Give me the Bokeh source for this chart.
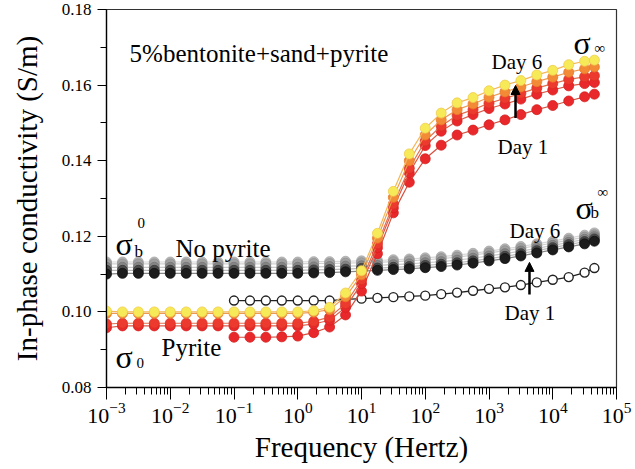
from bokeh.plotting import figure
from bokeh.models import FixedTicker, Label, Arrow, NormalHead, PrintfTickFormatter
from bokeh.embed import file_html
from bokeh.resources import INLINE

# ---------------- data ----------------
freq = [0.001, 0.00178, 0.00316, 0.00562, 0.01, 0.0178, 0.0316, 0.0562,
        0.1, 0.178, 0.316, 0.562, 1.0, 1.78, 3.16, 5.62,
        10.0, 17.8, 31.6, 56.2, 100.0, 178.0, 316.0, 562.0,
        1000.0, 1780.0, 3160.0, 5620.0, 10000.0, 17800.0, 31600.0, 45000.0]
freq_day1 = freq[8:]

# No pyrite (sigma_b)
np_day1 = [0.1030, 0.1030, 0.1030, 0.1030, 0.1030, 0.1030, 0.1030, 0.1033,
           0.1035, 0.1037, 0.1039, 0.1041, 0.1043, 0.1047, 0.1051, 0.1056,
           0.1061, 0.1065, 0.1071, 0.1078, 0.1085, 0.1092, 0.1104, 0.1116]
np_day2 = [0.1100, 0.1102, 0.1102, 0.1102, 0.1102, 0.1102, 0.1102, 0.1102,
           0.1102, 0.1102, 0.1102, 0.1102, 0.1102, 0.1103, 0.1104, 0.1106,
           0.1108, 0.1110, 0.1112, 0.1114, 0.1117, 0.1120, 0.1124, 0.1129,
           0.1135, 0.1141, 0.1148, 0.1156, 0.1164, 0.1172, 0.1180, 0.1187]
np_day3 = [0.1110, 0.1110, 0.1110, 0.1110, 0.1110, 0.1110, 0.1110, 0.1110,
           0.1110, 0.1110, 0.1110, 0.1110, 0.1110, 0.1111, 0.1112, 0.1113,
           0.1115, 0.1116, 0.1118, 0.1120, 0.1123, 0.1126, 0.1130, 0.1135,
           0.1141, 0.1147, 0.1154, 0.1162, 0.1170, 0.1178, 0.1186, 0.1193]
np_day4 = [0.1118, 0.1118, 0.1118, 0.1118, 0.1118, 0.1118, 0.1118, 0.1118,
           0.1118, 0.1118, 0.1118, 0.1118, 0.1118, 0.1119, 0.1120, 0.1121,
           0.1122, 0.1123, 0.1125, 0.1127, 0.1130, 0.1133, 0.1137, 0.1142,
           0.1148, 0.1154, 0.1161, 0.1168, 0.1176, 0.1184, 0.1192, 0.1199]
np_day5 = [0.1127, 0.1127, 0.1127, 0.1127, 0.1127, 0.1127, 0.1127, 0.1127,
           0.1127, 0.1127, 0.1127, 0.1127, 0.1127, 0.1128, 0.1128, 0.1129,
           0.1130, 0.1131, 0.1133, 0.1135, 0.1138, 0.1141, 0.1145, 0.1150,
           0.1156, 0.1162, 0.1168, 0.1175, 0.1182, 0.1190, 0.1198, 0.1204]
np_day6 = [0.1132, 0.1132, 0.1132, 0.1132, 0.1132, 0.1132, 0.1132, 0.1132,
           0.1132, 0.1132, 0.1132, 0.1132, 0.1132, 0.1133, 0.1133, 0.1134,
           0.1135, 0.1136, 0.1138, 0.1140, 0.1143, 0.1146, 0.1150, 0.1155,
           0.1161, 0.1167, 0.1173, 0.1180, 0.1187, 0.1195, 0.1203, 0.1209]

# Pyrite (sigma)
py_day1 = [0.0933, 0.0933, 0.0933, 0.0934, 0.0936, 0.0945, 0.0960, 0.0992,
           0.1055, 0.1154, 0.1262, 0.1343, 0.1405, 0.1441, 0.1468, 0.1481,
           0.1495, 0.1508, 0.1522, 0.1535, 0.1546, 0.1558, 0.1569, 0.1576]
py_day2 = [0.0958, 0.0963, 0.0963, 0.0963, 0.0963, 0.0963, 0.0963, 0.0963,
           0.0963, 0.0963, 0.0963, 0.0963, 0.0963, 0.0968, 0.0978, 0.1012,
           0.1075, 0.1170, 0.1275, 0.1368, 0.1440, 0.1478, 0.1505, 0.1522,
           0.1538, 0.1550, 0.1563, 0.1576, 0.1587, 0.1598, 0.1604, 0.1607]
py_day3 = [0.0968, 0.0970, 0.0970, 0.0970, 0.0970, 0.0970, 0.0970, 0.0970,
           0.0970, 0.0970, 0.0970, 0.0970, 0.0970, 0.0975, 0.0986, 0.1022,
           0.1085, 0.1180, 0.1285, 0.1380, 0.1452, 0.1492, 0.1520, 0.1535,
           0.1552, 0.1565, 0.1578, 0.1592, 0.1604, 0.1615, 0.1622, 0.1625]
py_day5 = [0.0996, 0.0996, 0.0996, 0.0996, 0.0996, 0.0996, 0.0996, 0.0996,
           0.0996, 0.0996, 0.0996, 0.0996, 0.0996, 0.0999, 0.1006, 0.1040,
           0.1098, 0.1195, 0.1303, 0.1400, 0.1468, 0.1508, 0.1535, 0.1550,
           0.1568, 0.1582, 0.1595, 0.1609, 0.1621, 0.1634, 0.1643, 0.1648]
py_day6 = [0.1002, 0.1000, 0.1000, 0.1000, 0.1000, 0.1000, 0.1000, 0.1000,
           0.1000, 0.1000, 0.1000, 0.1000, 0.1000, 0.1003, 0.1012, 0.1050,
           0.1109, 0.1208, 0.1319, 0.1418, 0.1486, 0.1526, 0.1553, 0.1567,
           0.1585, 0.1600, 0.1612, 0.1627, 0.1639, 0.1654, 0.1663, 0.1666]

x_major = [0.001, 0.01, 0.1, 1.0, 10.0, 100.0, 1000.0, 10000.0, 100000.0]
x_minor_mult = [2, 3, 4, 5, 6, 7, 8, 9]
y_major = [0.08, 0.10, 0.12, 0.14, 0.16, 0.18]
y_minor = [0.09, 0.11, 0.13, 0.15, 0.17]

SERIF = "Liberation Serif"

# ---------------- figure ----------------
p = figure(width=635, height=469, x_axis_type="log",
           x_range=(1e-3, 1e5), y_range=(0.08, 0.18),
           output_backend="svg", toolbar_location=None,
           min_border_left=106, min_border_right=19,
           min_border_top=9, min_border_bottom=82)
p.background_fill_color = "white"
p.border_fill_color = "white"
p.outline_line_color = "#333333"
p.outline_line_width = 1.2
p.xgrid.visible = False
p.ygrid.visible = False

x_minor = [m * t for t in x_major[:-1] for m in x_minor_mult]
p.xaxis.ticker = FixedTicker(ticks=x_major, minor_ticks=x_minor)
p.yaxis.ticker = FixedTicker(ticks=y_major, minor_ticks=y_minor)
p.yaxis.formatter = PrintfTickFormatter(format="%.2f")

for ax in (p.xaxis, p.yaxis):
    ax.axis_line_color = "black"
    ax.axis_line_width = 1.3
    ax.major_tick_line_color = "black"
    ax.minor_tick_line_color = "black"
    ax.major_tick_in = 0
    ax.minor_tick_in = 0
    ax.major_label_text_font = SERIF
    ax.axis_label_text_font = SERIF
    ax.axis_label_text_font_style = "normal"
    ax.axis_label_text_color = "black"
    ax.major_label_text_color = "black"

p.xaxis.major_tick_out = 12
p.xaxis.minor_tick_out = 7
p.yaxis.major_tick_out = 9
p.yaxis.minor_tick_out = 6
p.xaxis.major_label_text_font_size = "22px"
p.yaxis.major_label_text_font_size = "17px"
p.xaxis.axis_label = "Frequency (Hertz)"
p.yaxis.axis_label = "In-phase conductivity (S/m)"
p.xaxis.axis_label_text_font_size = "29px"
p.yaxis.axis_label_text_font_size = "29px"
p.xaxis.major_label_standoff = 3
p.yaxis.major_label_standoff = 6
p.xaxis.axis_label_standoff = 5
p.yaxis.axis_label_standoff = 16

# ---------------- series ----------------
def series(xs, ys, fill, line, mline, size=10, lw=1.2):
    p.line(xs, ys, line_color=line, line_width=lw)
    p.scatter(xs, ys, marker="circle", size=size, fill_color=fill,
              line_color=mline, line_width=0.8)

# no pyrite
series(freq, np_day6, "#b8b8b8", "#d8d8d8", "#a8a8a8")
series(freq, np_day5, "#a0a0a0", "#d0d0d0", "#909090")
series(freq, np_day4, "#858585", "#c8c8c8", "#767676")
series(freq, np_day3, "#4a4a4a", "#bbbbbb", "#3a3a3a")
series(freq, np_day2, "#1c1c1c", "#888888", "#101010")
p.line(freq_day1, np_day1, line_color="#222222", line_width=1.3)
p.scatter(freq_day1, np_day1, marker="circle", size=9, fill_color="white",
          line_color="#222222", line_width=1.4)

# pyrite
series(freq_day1, py_day1, "#e8282a", "#d45040", "#d82020")
series(freq, py_day2, "#e8282a", "#dc5a48", "#d82020")
series(freq, py_day3, "#ec3a2e", "#e27050", "#dc3025")
series(freq, py_day5, "#f28a36", "#ee9a50", "#ea7a2a")
series(freq, py_day6, "#f6ea58", "#f2b85a", "#f0cc50")

# ---------------- annotations ----------------
def lab(x, y, text, size, align="left", baseline="alphabetic"):
    p.add_layout(Label(x=x, y=y, text=text, text_font=SERIF,
                       text_font_size=size, text_color="black",
                       text_align=align, text_baseline=baseline))

lab(0.0023, 0.16823, "5%bentonite+sand+pyrite", "25px")
lab(1094, 0.16616, "Day 6", "21px")
lab(1358, 0.14362, "Day 1", "21px")
lab(2100, 0.12127, "Day 6", "21px")
lab(1750, 0.09958, "Day 1", "21px")
lab(0.01208, 0.11677, "No pyrite", "25px")
lab(0.0073, 0.09058, "Pyrite", "25px")

# sigma symbols
lab(21150, 0.1712, "σ", "32px")
lab(45200, 0.1697, "∞", "15px")
lab(22750, 0.1276, "σ", "32px")
lab(39100, 0.1262, "b", "17px")
lab(50400, 0.1318, "∞", "15px")
lab(0.001384, 0.11800, "σ", "32px")
lab(0.002748, 0.11600, "b", "17px")
lab(0.00306, 0.12339, "0", "15px")
lab(0.001384, 0.08820, "σ", "32px")
lab(0.002958, 0.08661, "0", "15px")

p.add_layout(Arrow(end=NormalHead(size=9, fill_color="black", line_color="black"),
                   x_start=2606, y_start=0.1513, x_end=2606, y_end=0.1599,
                   line_width=2.5, line_color="black"))
p.add_layout(Arrow(end=NormalHead(size=9, fill_color="black", line_color="black"),
                   x_start=4315, y_start=0.1046, x_end=4315, y_end=0.1131,
                   line_width=2.5, line_color="black"))

open("out.html", "w").write(file_html(p, INLINE))
